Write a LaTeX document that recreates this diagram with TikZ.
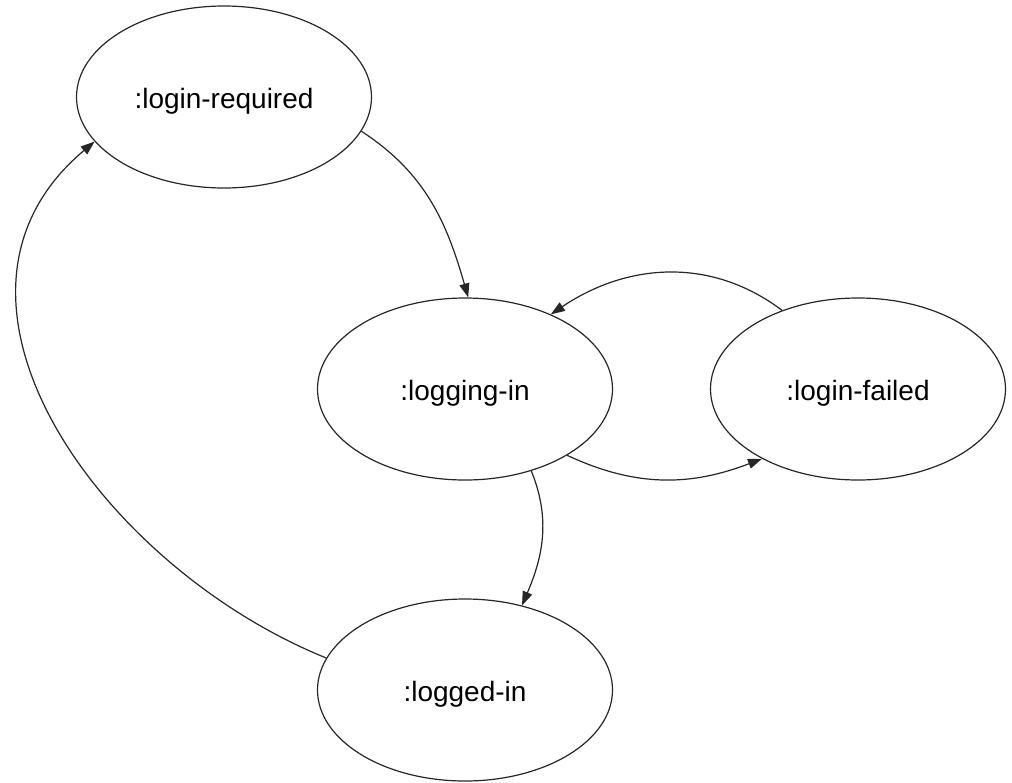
\documentclass[tikz,border=0pt]{standalone}
\usepackage{fontspec}
\setmainfont{Liberation Sans}
\usepackage{tikz}
\usetikzlibrary{shapes.geometric,arrows.meta}
\newcommand{\FE}{\fontsize{28}{34}\selectfont}

\begin{document}
\begin{tikzpicture}[x=1pt,y=1pt]
\tikzstyle{estado}=[draw=black!85,ellipse,line width=1.2pt,minimum width=295pt,minimum height=182pt,inner sep=0pt,text height=24pt,text depth=2pt,font=\FE]
\tikzstyle{flecha}=[black!85,line width=1.2pt,-{Triangle[length=14pt,width=10pt]}]

\useasboundingbox (0,0) rectangle (1012,-782);

\node[estado] (req)    at (224,-97)  {:login-required};
\node[estado] (ing)    at (465,-389) {:logging-in};
\node[estado] (fail)   at (858,-389) {:login-failed};
\node[estado] (logged) at (465,-690) {:logged-in};

\draw[flecha] (req.-14)    to[out=-33,in=106] (ing.88);
\draw[flecha] (fail.134)   to[out=143,in=34]  (ing.41);
\draw[flecha] (ing.-33)    to[out=-25,in=201] (fail.216);
\draw[flecha] (ing.-51)    to[out=-68,in=67]  (logged.56);
\draw[flecha] (logged.167) to[out=158,in=220,looseness=1.1] (req.199);
\end{tikzpicture}
\end{document}
